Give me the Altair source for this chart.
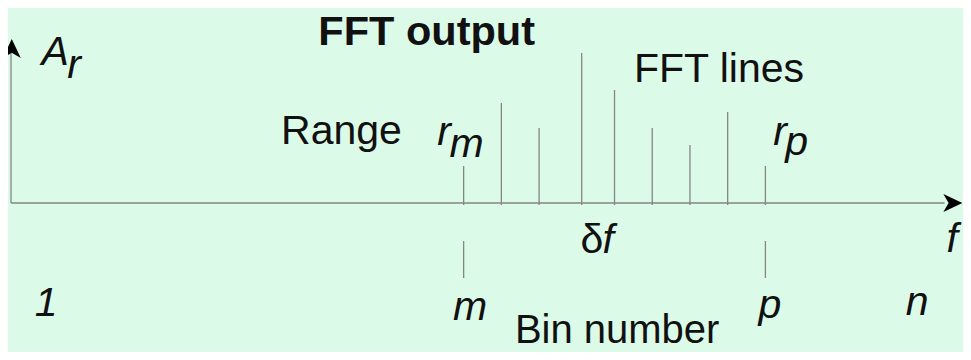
import altair as alt
import pandas as pd

# ---- data (bin index, amplitude in arbitrary units) ----
fft_bins = [12, 13, 14, 15.13, 16, 17, 18, 19, 20]
fft_amps = [37, 100, 75, 150, 113, 75, 58, 91, 37]

range_bins = [12, 20]          # m and p markers

# annotation texts and their anchor positions (in bin / amplitude units)
reg_text = ["Range", "FFT lines", "δ"]
reg_x = [8.76, 18.77, 15.40]
reg_y = [59, 121, -50]

foot_text = ["Bin number"]
foot_x = [16.07]
foot_y = [-140]

bold_text = ["FFT output"]
bold_x = [11.02]
bold_y = [158]

ital_text = ["A", "r", "r", "f", "f", "1", "m", "p", "n"]
ital_x = [1.17, 11.48, 20.39, 15.83, 24.95, 0.93, 12.17, 20.12, 24.02]
ital_y = [138, 58, 58, -50, -49, -113, -117, -115, -112]

sub_text = ["r", "m", "p"]
sub_x = [1.67, 12.08, 20.83]
sub_y = [125, 46, 48]

# ---- layout ----
W, H = 955, 344
BIN_PX = 37.72
X0_PX = 3.0    # plot-x of bin 0
Y0_PX = 195.0  # plot-y of amplitude 0
x_dom = [-X0_PX / BIN_PX, (W - X0_PX) / BIN_PX]
y_dom = [Y0_PX - H, Y0_PX]

xs = alt.Scale(domain=x_dom, nice=False, zero=False)
ys = alt.Scale(domain=y_dom, nice=False, zero=False)

def X(f="x"):
    return alt.X(f"{f}:Q", scale=xs, axis=None)

def Y(f="y"):
    return alt.Y(f"{f}:Q", scale=ys, axis=None)

LINE = "#858585"
FONT = "Liberation Sans"

fft_df = pd.DataFrame({"x": fft_bins, "y": fft_amps, "y0": [-2] * len(fft_bins)})
fft = alt.Chart(fft_df).mark_rule(color=LINE, strokeWidth=1.3).encode(
    x=X(), y=Y("y0"), y2="y:Q")

mark_df = pd.DataFrame({"x": range_bins, "y": [-38] * 2, "y2": [-75] * 2})
marks = alt.Chart(mark_df).mark_rule(color=LINE, strokeWidth=1.3).encode(
    x=X(), y=Y(), y2="y2:Q")

haxis_df = pd.DataFrame({"x": [0], "x2": [24.75], "y": [0]})
haxis = alt.Chart(haxis_df).mark_rule(color=LINE, strokeWidth=1.3).encode(
    x=X(), x2="x2:Q", y=Y())

vaxis_df = pd.DataFrame({"x": [0], "y": [0], "y2": [150]})
vaxis = alt.Chart(vaxis_df).mark_rule(color=LINE, strokeWidth=1.3).encode(
    x=X(), y=Y(), y2="y2:Q")

harrow = alt.Chart(pd.DataFrame({"x": [24.97], "y": [0]})).mark_point(
    shape="M1,0 L-1,-0.95 L-0.45,0 L-1,0.95 Z", filled=True, size=361,
    color="black", opacity=1, strokeWidth=0).encode(x=X(), y=Y())

varrow = alt.Chart(pd.DataFrame({"x": [0.02], "y": [154.5]})).mark_point(
    shape="M0,-1 L-0.95,1 L0,0.45 L0.95,1 Z", filled=True, size=361,
    color="black", opacity=1, strokeWidth=0).encode(x=X(), y=Y())

def texts(t, x, y, size, style="normal", weight="normal"):
    df = pd.DataFrame({"t": t, "x": x, "y": y})
    return alt.Chart(df).mark_text(
        font=FONT, fontSize=size, fontStyle=style, fontWeight=weight,
        align="center", baseline="alphabetic", color="#111111").encode(
        x=X(), y=Y(), text="t:N")

reg = texts(reg_text, reg_x, reg_y, 41)
foot = texts(foot_text, foot_x, foot_y, 40)
bold = texts(bold_text, bold_x, bold_y, 41.5, weight="bold")
ital = texts(ital_text, ital_x, ital_y, 41, style="italic")
sub = texts(sub_text, sub_x, sub_y, 41, style="italic")

chart = alt.layer(haxis, vaxis, fft, marks, harrow, varrow, reg, foot, bold, ital, sub).properties(
    width=W, height=H, padding=0, autosize="none", background="#dcfae8"
).configure_view(stroke=None)

chart.save("out.html", embed_options={"renderer": "svg", "actions": False})
